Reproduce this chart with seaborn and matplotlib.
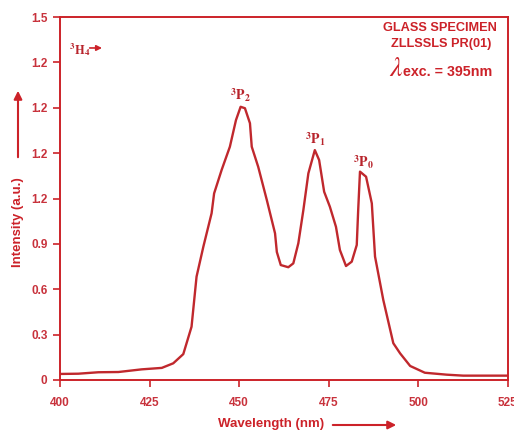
import numpy as np
import pandas as pd
import matplotlib
matplotlib.use("Agg")
import matplotlib.pyplot as plt
import seaborn as sns

# ---- data ----
wavelength = [400.0, 405.1, 410.7, 416.3, 422.8, 428.4, 431.6, 434.4, 436.7, 438.1,
              440.0, 442.3, 443.0, 445.1, 447.4, 449.1, 450.4, 451.6, 453.0, 453.5,
              455.3, 457.7, 460.0, 460.5, 461.6, 463.7, 465.1, 466.5, 467.9, 469.3,
              471.1, 472.3, 473.7, 475.3, 477.0, 478.1, 479.8, 481.4, 482.8, 483.2,
              483.7, 485.4, 487.0, 487.9, 490.2, 493.0, 494.9, 497.7, 501.8, 507.9,
              512.5, 525.0]
intensity = [0.025, 0.026, 0.032, 0.033, 0.044, 0.050, 0.069, 0.107, 0.220, 0.427,
             0.551, 0.689, 0.771, 0.868, 0.964, 1.074, 1.129, 1.123, 1.061, 0.964,
             0.881, 0.744, 0.606, 0.529, 0.475, 0.466, 0.482, 0.565, 0.702, 0.854,
             0.950, 0.909, 0.778, 0.716, 0.633, 0.537, 0.471, 0.489, 0.558, 0.702,
             0.861, 0.840, 0.730, 0.510, 0.331, 0.152, 0.110, 0.058, 0.030, 0.022,
             0.018, 0.018]

x_ticks = [400, 425, 450, 475, 500, 525]
y_tick_labels = ['0', '0.3', '0.6', '0.9', '1.2', '1.2', '1.2', '1.2', '1.5']

peak_labels = [r'$^{\mathbf{3}}\mathbf{P}_{\mathbf{2}}$',
               r'$^{\mathbf{3}}\mathbf{P}_{\mathbf{1}}$',
               r'$^{\mathbf{3}}\mathbf{P}_{\mathbf{0}}$']
peak_x = [450.3, 471.3, 484.6]
peak_y = [1.178, 0.995, 0.902]

RED = '#cc2229'
TXT = '#c8323c'

sns.set_style('ticks')
plt.rcParams['font.family'] = ['Liberation Sans', 'DejaVu Sans']
plt.rcParams['mathtext.fontset'] = 'stix'

df = pd.DataFrame({'Wavelength': wavelength, 'Intensity': intensity})

fig = plt.figure(figsize=(5.14, 4.32), dpi=100)
ax = fig.add_axes([60 / 514, 1 - 380 / 432, 448 / 514, 363 / 432])

sns.lineplot(data=df, x='Wavelength', y='Intensity', ax=ax, sort=False,
             color='#c0282d', linewidth=1.7)

ax.set_xlim(400, 525)
ax.set_ylim(0, 1.5)
ax.set_xticks(x_ticks)
ax.set_xticklabels([str(t) for t in x_ticks])
ax.set_yticks(np.linspace(0, 1.5, len(y_tick_labels)))
ax.set_yticklabels(y_tick_labels)
ax.set_xlabel('')
ax.set_ylabel('')

for sp in ax.spines.values():
    sp.set_color(RED)
    sp.set_linewidth(1.4)
ax.tick_params(axis='both', colors=RED, length=5, width=1.2, direction='out',
               labelsize=8.5, labelcolor=TXT)
ax.tick_params(axis='x', pad=7.5)
ax.tick_params(axis='y', pad=4)
for lab in ax.get_xticklabels() + ax.get_yticklabels():
    lab.set_fontweight('bold')

# peak labels
for lbl, px, py in zip(peak_labels, peak_x, peak_y):
    ax.text(px, py, lbl, color='#b8242c', fontsize=10, ha='center', va='center')

ax.text(402.5, 1.365, r'$^{\mathbf{3}}\mathbf{H}_{\mathbf{4}}$', color='#b8242c',
        fontsize=9, ha='left', va='center')
ax.annotate('', xy=(412.5, 1.372), xytext=(407.5, 1.372),
            arrowprops=dict(arrowstyle='-|>', color=RED, lw=1.2, mutation_scale=8))

# specimen text
fig.text(440 / 514, 1 - 28 / 432, 'GLASS SPECIMEN', color=RED, fontsize=9.2,
         fontweight='bold', ha='center', va='center')
fig.text(441 / 514, 1 - 44.5 / 432, 'ZLLSSLS PR(01)', color=RED, fontsize=9.2,
         fontweight='bold', ha='center', va='center')
fig.text(403 / 514, 1 - 69 / 432, r'$\lambda$', color=RED, fontsize=20,
         ha='right', va='center')
fig.text(403 / 514, 1 - 72.5 / 432, 'exc. = 395nm', color=RED, fontsize=10.3,
         fontweight='bold', ha='left', va='center')

# axis labels with arrows
fig.text(18 / 514, 1 - 222 / 432, 'Intensity (a.u.)', color=RED, fontsize=9.5,
         fontweight='bold', rotation=90, ha='center', va='center')
fig.patches.append(matplotlib.patches.FancyArrowPatch(
    (18 / 514, 1 - 160 / 432), (18 / 514, 1 - 88 / 432), transform=fig.transFigure,
    arrowstyle='-|>', mutation_scale=12, color=RED, lw=1.5))

fig.text(271 / 514, 1 - 424 / 432, 'Wavelength (nm)', color=RED, fontsize=9.5,
         fontweight='bold', ha='center', va='center')
fig.patches.append(matplotlib.patches.FancyArrowPatch(
    (330 / 514, 1 - 425 / 432), (399 / 514, 1 - 425 / 432), transform=fig.transFigure,
    arrowstyle='-|>', mutation_scale=12, color=RED, lw=1.5))

fig.savefig('out.png', dpi=100, facecolor='white')
